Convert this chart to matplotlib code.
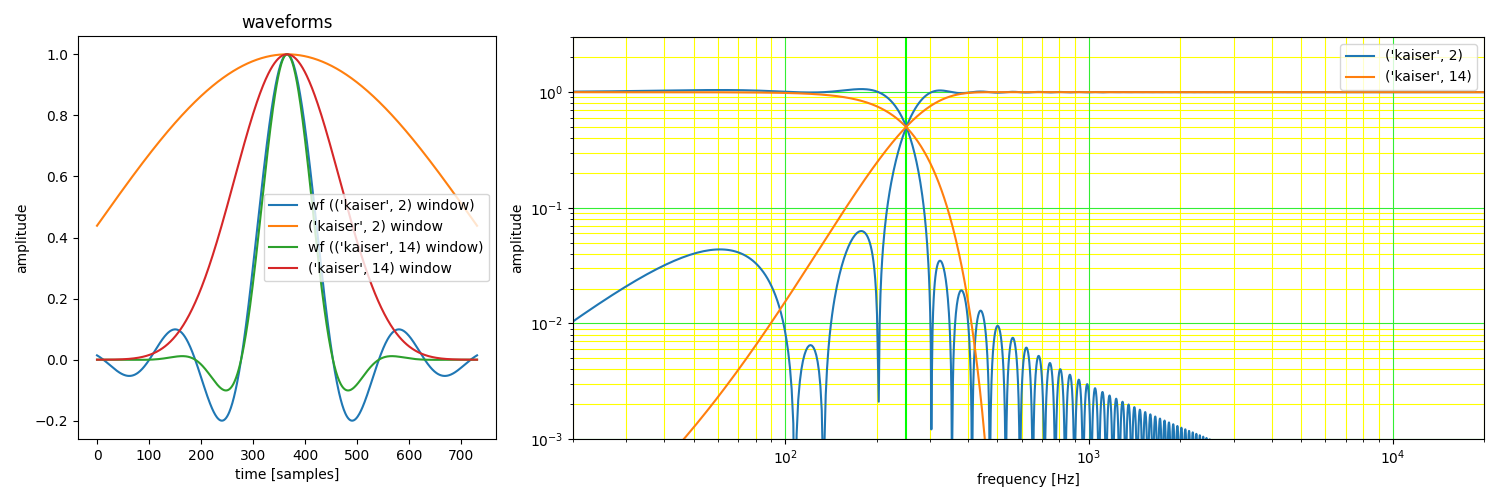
import numpy as np
import matplotlib
matplotlib.use("Agg")
import matplotlib.pyplot as plt

# filter settings
SAMPLE_RATE = 44100      # Hz
CUTOFF_HZ = 250          # crossover frequency (thick green line)
NUM_TAPS = 731           # samples 0..730 on the waveform panel
WINDOWS = [("kaiser", 2), ("kaiser", 14)]

# colours: (filter waveform, window) per window spec on the left panel
WAVE_COLORS = [("C0", "C1"), ("C2", "C3")]
RESP_COLORS = ["C0", "C1"]

# reference lines on the response panel
X_DECADES = [10, 100, 1000, 10000]
Y_DECADES = [1e-3, 1e-2, 1e-1, 1]
STEPS = [2, 3, 4, 5, 6, 7, 8, 9]


def design_lowpass(beta):
    """Windowed-sinc lowpass, scaled to unity gain at DC."""
    n = np.arange(NUM_TAPS) - (NUM_TAPS - 1) / 2
    fc = CUTOFF_HZ / (SAMPLE_RATE / 2)
    win = np.kaiser(NUM_TAPS, beta)
    h = fc * np.sinc(fc * n) * win
    return h / h.sum(), win


def magnitude(h, nfft=2**15):
    spec = np.abs(np.fft.rfft(h, n=nfft))
    freqs = np.fft.rfftfreq(nfft, 1 / SAMPLE_RATE)
    return freqs[1:], spec[1:]


fig = plt.figure(figsize=(15, 5), dpi=100)
ax_wave = fig.add_axes([0.052, 0.122, 0.2787, 0.806])
ax_resp = fig.add_axes([0.382, 0.122, 0.6073, 0.804])

# colored guide lines first so the curves sit on top
for d in X_DECADES:
    for s in STEPS:
        ax_resp.axvline(s * d, color="yellow", lw=0.8)
for d in Y_DECADES:
    for s in STEPS:
        ax_resp.axhline(s * d, color="yellow", lw=0.8)
for d in X_DECADES:
    ax_resp.axvline(d, color="#33ee33", lw=0.8)
for d in Y_DECADES:
    ax_resp.axhline(d, color="#33ee33", lw=0.8)
ax_resp.axvline(CUTOFF_HZ, color="lime", lw=1.5)

for (kind, beta), (c_wf, c_win), c_resp in zip(WINDOWS, WAVE_COLORS, RESP_COLORS):
    spec_name = str((kind, beta))
    h_lp, win = design_lowpass(beta)
    # spectral inversion gives the matching highpass
    h_hp = -h_lp
    h_hp[(NUM_TAPS - 1) // 2] += 1.0

    ax_wave.plot(np.arange(NUM_TAPS), h_lp / h_lp.max(), color=c_wf,
                 label=f"wf ({spec_name} window)")
    ax_wave.plot(np.arange(NUM_TAPS), win, color=c_win,
                 label=f"{spec_name} window")

    f, m_lp = magnitude(h_lp)
    _, m_hp = magnitude(h_hp)
    ax_resp.plot(f, m_lp, color=c_resp, lw=1.5, label=spec_name)
    ax_resp.plot(f, m_hp, color=c_resp, lw=1.5)

ax_wave.set_title("waveforms")
ax_wave.set_xlabel("time [samples]")
ax_wave.set_ylabel("amplitude")
ax_wave.legend(loc="center right")

ax_resp.set_xscale("log")
ax_resp.set_yscale("log")
ax_resp.set_xlim(20, 20000)
ax_resp.set_ylim(1e-3, 3)
ax_resp.set_xlabel("frequency [Hz]")
ax_resp.set_ylabel("amplitude")
ax_resp.legend(loc="upper right")

fig.savefig("out.png", dpi=100)
